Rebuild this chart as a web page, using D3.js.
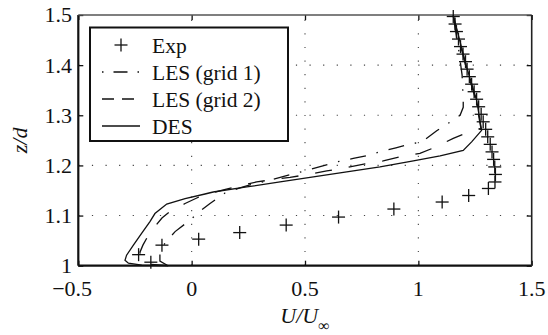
<!DOCTYPE html>
<html><head><meta charset="utf-8">
<script src="https://cdn.jsdelivr.net/npm/d3@7"></script>
<style>
html,body{margin:0;padding:0;background:#fff;}
svg{display:block;}
svg text{font-family:"Liberation Serif","Times New Roman",serif;}
</style></head>
<body><svg id="c" width="548" height="335"></svg>
<script>
// ---- data ----
const expU = [-0.180,-0.234,-0.131,0.031,0.212,0.417,0.648,0.892,1.105,1.222,1.309,
  1.338,1.340,1.337,1.332,1.325,1.317,1.306,1.297,1.286,1.277,1.266,1.257,1.246,1.235,1.225,1.215,1.208,1.197,1.186,1.177,1.168,1.162,1.154];
const expZ = [1.007,1.022,1.041,1.053,1.066,1.081,1.097,1.113,1.127,1.140,1.154,
  1.167,1.182,1.197,1.212,1.227,1.242,1.257,1.272,1.287,1.302,1.317,1.332,1.347,1.362,1.377,1.392,1.407,1.422,1.437,1.452,1.467,1.482,1.497];

const les1U = [-0.104,-0.140,-0.140,-0.118,-0.073,-0.007,0.037,0.081,0.147,0.213,0.257,0.331,0.448,0.522,0.640,0.713,0.769,0.828,0.901,0.960,1.015,1.081,1.132,1.184,1.198,1.198,1.193,1.175,1.153];
const les1Z = [1.000,1.009,1.027,1.045,1.068,1.091,1.109,1.124,1.145,1.155,1.161,1.169,1.183,1.192,1.207,1.214,1.219,1.227,1.235,1.242,1.247,1.269,1.284,1.300,1.316,1.330,1.380,1.440,1.499];

const les2U = [-0.104,-0.184,-0.223,-0.228,-0.215,-0.198,-0.162,-0.131,-0.096,-0.029,0.051,0.140,0.213,0.287,0.375,0.434,0.537,0.596,0.684,0.765,0.845,0.919,1.007,1.073,1.154,1.225,1.276,1.254,1.210,1.153];
const les2Z = [1.000,1.003,1.013,1.027,1.041,1.055,1.078,1.095,1.108,1.124,1.141,1.151,1.160,1.167,1.173,1.176,1.184,1.189,1.196,1.203,1.209,1.217,1.224,1.236,1.254,1.267,1.274,1.330,1.396,1.499];

const desU = [-0.103,-0.220,-0.279,-0.294,-0.287,-0.257,-0.220,-0.184,-0.162,-0.110,-0.029,0.059,0.095,0.243,0.390,0.537,0.684,0.831,0.978,1.096,1.198,1.235,1.279,1.257,1.213,1.154];
const desZ = [1.000,1.001,1.005,1.011,1.021,1.041,1.065,1.088,1.104,1.123,1.134,1.143,1.147,1.157,1.167,1.177,1.187,1.197,1.209,1.219,1.230,1.247,1.270,1.330,1.396,1.499];

const xTicks = [-0.5,0,0.5,1,1.5];
const yTicks = [1,1.1,1.2,1.3,1.4,1.5];
const legendLabels = ["Exp","LES (grid 1)","LES (grid 2)","DES"];

// ---- layout ----
const FONT = "Liberation Serif";
const svg = d3.select("#c");
const L = 78.3, R = 531.7, T = 15, B = 265.7;
const x = d3.scaleLinear().domain([-0.5,1.5]).range([L,R]);
const y = d3.scaleLinear().domain([1,1.5]).range([B,T]);

// grid (dotted)
const grid = svg.append("g").attr("stroke","#444").attr("stroke-width",1.1).attr("stroke-dasharray","1.2,12.4");
xTicks.slice(1,-1).forEach(v=>grid.append("line").attr("x1",x(v)).attr("x2",x(v)).attr("y1",B).attr("y2",T));
yTicks.slice(1,-1).forEach(v=>grid.append("line").attr("x1",L).attr("x2",R).attr("y1",y(v)).attr("y2",y(v)));

// axes (ticks inward)
const tl = 5;
const axB = svg.append("g").attr("transform",`translate(0,${B})`).call(d3.axisBottom(x).tickValues(xTicks).tickSize(-tl).tickFormat(""));
const axT = svg.append("g").attr("transform",`translate(0,${T})`).call(d3.axisTop(x).tickValues(xTicks).tickSize(-tl).tickFormat(""));
const axL = svg.append("g").attr("transform",`translate(${L},0)`).call(d3.axisLeft(y).tickValues(yTicks).tickSize(-tl).tickFormat(""));
const axR = svg.append("g").attr("transform",`translate(${R},0)`).call(d3.axisRight(y).tickValues(yTicks).tickSize(-tl).tickFormat(""));
[axB,axT,axL,axR].forEach(a=>{a.select(".domain").remove();a.selectAll("line").attr("stroke","#111").attr("stroke-width",1.3);});
svg.append("line").attr("x1",L).attr("x2",R).attr("y1",B).attr("y2",B).attr("stroke","#111").attr("stroke-width",2.2);
svg.append("line").attr("x1",L).attr("x2",L).attr("y1",T).attr("y2",B).attr("stroke","#111").attr("stroke-width",2.2);
svg.append("line").attr("x1",L).attr("x2",R).attr("y1",T).attr("y2",T).attr("stroke","#555").attr("stroke-width",1.6);
svg.append("line").attr("x1",R).attr("x2",R).attr("y1",T).attr("y2",B).attr("stroke","#222").attr("stroke-width",1.6);

// tick labels
const fmt = v => (v<0?"\u2212":"") + Math.abs(v);
xTicks.forEach(v=>{
  const t = svg.append("text").attr("font-family",FONT).attr("y",296).attr("font-size",22).attr("fill","#111").attr("text-anchor","middle").text(fmt(v));
  let dx = 0;
  if(v<0){
    const full = t.node().getComputedTextLength();
    t.text(String(Math.abs(v)));
    const part = t.node().getComputedTextLength();
    t.text(fmt(v));
    dx = -(full-part)/2;
  }
  t.attr("x",x(v)+dx);
});
yTicks.forEach(v=>{
  svg.append("text").attr("font-family",FONT).attr("x",72).attr("y",y(v)).attr("dy","0.34em").attr("font-size",22).attr("fill","#111").attr("text-anchor","end").text(String(v));
});

// axis labels
const xl = svg.append("text").attr("font-family",FONT).attr("x",(L+R)/2).attr("y",323).attr("font-size",22).attr("fill","#111").attr("text-anchor","middle");
xl.append("tspan").attr("font-style","italic").text("U/U");
xl.append("tspan").attr("font-size",16).attr("dy",8).text("\u221E");
svg.append("text").attr("font-family",FONT).attr("transform",`translate(27,${(T+B)/2}) rotate(-90)`).attr("font-size",22).attr("font-style","italic").attr("fill","#111").attr("text-anchor","middle").text("z/d");

// data lines
const line = d3.line().x(d=>x(d[0])).y(d=>y(d[1]));
const zip = (a,b)=>a.map((v,i)=>[v,b[i]]);
const plot = svg.append("g").attr("fill","none").attr("stroke","#111").attr("stroke-width",1.3);
plot.append("path").attr("d",line(zip(les1U,les1Z))).attr("stroke-dasharray","16,11,1.5,11");
plot.append("path").attr("d",line(zip(les2U,les2Z))).attr("stroke-dasharray","17,17");
plot.append("path").attr("d",line(zip(desU,desZ)));

// Exp plus markers
const ms = 6.5;
const pts = svg.append("g").attr("stroke","#111").attr("stroke-width",1.3);
zip(expU,expZ).forEach(([u,z])=>{
  pts.append("line").attr("x1",x(u)-ms).attr("x2",x(u)+ms).attr("y1",y(z)).attr("y2",y(z));
  pts.append("line").attr("x1",x(u)).attr("x2",x(u)).attr("y1",y(z)-ms).attr("y2",y(z)+ms);
});

// legend
const lg = svg.append("g");
lg.append("rect").attr("x",90).attr("y",27.5).attr("width",198).attr("height",113.5).attr("fill","#fff").attr("stroke","#111").attr("stroke-width",2);
const rowB = [53,80,107,134];
const dashes = [null,"1.5,10,14,10","12,8",null];
legendLabels.forEach((lab,i)=>{
  const sy = rowB[i]-8;
  if(i===0){
    lg.append("line").attr("x1",121-ms).attr("x2",121+ms).attr("y1",sy).attr("y2",sy).attr("stroke","#111").attr("stroke-width",1.3);
    lg.append("line").attr("x1",121).attr("x2",121).attr("y1",sy-ms).attr("y2",sy+ms).attr("stroke","#111").attr("stroke-width",1.3);
  } else {
    const l = lg.append("line").attr("x1",102).attr("x2",140).attr("y1",sy).attr("y2",sy).attr("stroke","#111").attr("stroke-width",1.3);
    if(dashes[i]) l.attr("stroke-dasharray",dashes[i]);
  }
  lg.append("text").attr("font-family",FONT).attr("x",152).attr("y",rowB[i]).attr("font-size",21.5).attr("fill","#111").text(lab);
});
</script></body></html>
